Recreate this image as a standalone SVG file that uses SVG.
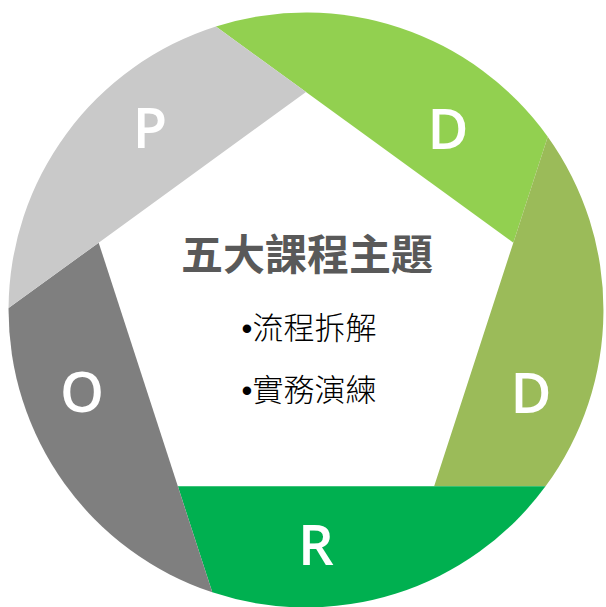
<svg xmlns="http://www.w3.org/2000/svg" width="606" height="607" viewBox="0 0 606 607">
<style>
.letter{font-family:"Open Sans","Noto Sans","DejaVu Sans",sans-serif;font-size:56px;font-weight:600;fill:#FFFFFF;text-anchor:middle}
.title{font-family:"Noto Sans CJK TC","Noto Sans CJK SC",sans-serif;font-size:42px;font-weight:600;fill:#595959;text-anchor:middle}
.item{font-family:"Noto Sans CJK TC","Noto Sans CJK SC",sans-serif;font-size:31px;font-weight:300;fill:#000000;text-anchor:middle}
.bul{font-family:"Liberation Sans",sans-serif;font-weight:400}
</style>
<rect width="606" height="607" fill="#FFFFFF"/>
<g id="seg-D1">
<path d="M513.33,242.63 L306,92 L215.88,26.52 A297.5,297.5 0 0 1 547.75,136.68 Z" fill="#92D050"/>
<text class="letter" x="448" y="149">D</text>
</g>
<g id="seg-D2">
<path d="M434.14,486.37 L513.33,242.63 L547.75,136.68 A297.5,297.5 0 0 1 545.54,486.37 Z" fill="#9BBB59"/>
<text class="letter" x="531" y="413">D</text>
</g>
<g id="seg-R">
<path d="M177.86,486.37 L434.14,486.37 L545.54,486.37 A297.5,297.5 0 0 1 212.28,592.32 Z" fill="#00B050"/>
<text class="letter" x="316" y="565">R</text>
</g>
<g id="seg-O">
<path d="M98.67,242.63 L177.86,486.37 L212.28,592.32 A297.5,297.5 0 0 1 8.55,308.11 Z" fill="#7F7F7F"/>
<text class="letter" x="82" y="412">O</text>
</g>
<g id="seg-P">
<path d="M306,92 L98.67,242.63 L8.55,308.11 A297.5,297.5 0 0 1 215.88,26.52 Z" fill="#C9C9C9"/>
<text class="letter" x="150" y="148">P</text>
</g>
<g id="center">
<text class="title" x="307" y="270">五大課程主題</text>
<text class="item" x="309" y="339"><tspan class="bul">•</tspan>流程拆解</text>
<text class="item" x="309" y="401"><tspan class="bul">•</tspan>實務演練</text>
</g>
</svg>
